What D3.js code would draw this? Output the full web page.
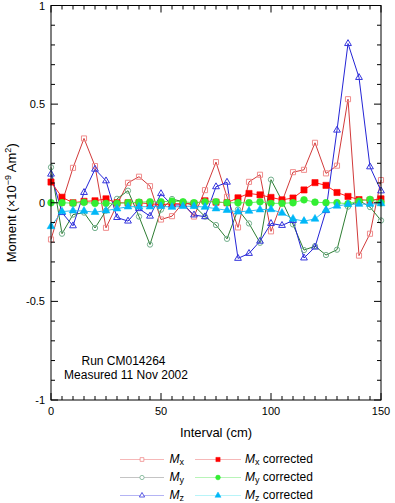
<!DOCTYPE html>
<html><head><meta charset="utf-8">
<script src="https://cdn.jsdelivr.net/npm/d3@7"></script>
<style>
html,body{margin:0;padding:0;background:#fff;}
text{font-family:"Liberation Sans",Arial,Helvetica,sans-serif;fill:#000;}
</style></head>
<body><svg id="c" width="395" height="503"></svg>
<script>
const intervals = [0,5,10,15,20,25,30,35,40,45,50,55,60,65,70,75,80,85,90,95,100,105,110,115,120,125,130,135,140,145,150];
const mx = [-0.186,0.0,0.177,0.326,0.186,-0.127,-0.01,0.101,0.132,0.084,-0.085,-0.068,0.0,-0.07,0.064,0.206,0.03,-0.125,0.106,0.142,-0.145,0.005,0.155,0.167,0.304,0.149,0.188,0.525,-0.268,-0.157,0.115];
const my = [0.18,-0.157,-0.06,-0.05,-0.128,-0.04,0.02,0.061,-0.07,-0.212,-0.035,0.019,0.005,-0.015,-0.07,-0.113,-0.183,-0.034,-0.105,-0.203,0.117,0.01,-0.11,-0.24,-0.22,-0.265,-0.238,-0.02,0.012,-0.022,-0.09];
const mz = [0.145,-0.05,-0.117,0.052,0.17,0.111,-0.075,-0.093,-0.03,-0.068,0.046,-0.012,-0.01,-0.062,-0.071,0.081,0.104,-0.282,-0.257,-0.195,-0.105,-0.115,-0.09,-0.28,-0.225,-0.04,0.368,0.807,0.635,0.182,0.06];
const mxCorr = [0.105,0.028,0.0,0.007,0.01,0.02,0.0,0.0,0.0,-0.005,-0.01,-0.005,-0.005,-0.005,0.01,0.003,0.0,0.025,0.047,0.04,0.027,0.015,0.024,0.065,0.102,0.088,0.052,0.032,0.016,0.012,0.02];
const myCorr = [0.0,0.0,-0.002,0.002,-0.003,-0.003,-0.003,0.0,0.003,0.005,0.005,0.008,0.005,0.0,0.005,0.005,0.0,0.0,0.0,0.005,-0.003,-0.003,0.0,0.015,0.003,0.0,0.0,-0.005,0.008,0.017,0.0];
const mzCorr = [-0.12,-0.045,-0.04,-0.042,-0.048,-0.04,-0.03,-0.02,-0.02,-0.02,-0.018,-0.022,-0.018,-0.018,-0.022,-0.03,-0.038,-0.046,-0.042,-0.035,-0.034,-0.052,-0.082,-0.093,-0.082,-0.037,-0.016,-0.008,-0.007,-0.007,-0.004];
const xTickLabels = [0,50,100,150];
const yTickLabels = [-1,-0.5,0,0.5,1];
const seriesNames = ["M","M","M","M","M","M"];
const seriesSubs = ["x","y","z","x","y","z"];
const seriesSuffix = [""," "," "," corrected"," corrected"," corrected"];

const svg = d3.select("#c");
const L = 51, R = 381, T = 5.5, B = 400;
const x = d3.scaleLinear().domain([0,150]).range([L,R]);
const y = d3.scaleLinear().domain([-1,1]).range([B,T]);

const series = [
  {v: mx, line:"#d23a3a", mark:"#f08c8c", sym:d3.symbolSquare, fill:false, size:26, lg:"#f6b8b8", lgSize:14},
  {v: my, line:"#2e7d32", mark:"#74b08e", sym:d3.symbolCircle, fill:false, size:22, lg:"#c4c4c4", lgSize:14},
  {v: mz, line:"#2424d6", mark:"#3535dd", sym:d3.symbolTriangle, fill:false, size:20, lg:"#b4b4f4", lgSize:12},
  {v: mxCorr, line:"#ff2020", mark:"#ff0000", sym:d3.symbolSquare, fill:true, size:38, lg:"#f6b8b8", lgSize:18},
  {v: myCorr, line:"#66ee66", mark:"#33ee33", sym:d3.symbolCircle, fill:true, size:36, lg:"#b8f4b8", lgSize:18},
  {v: mzCorr, line:"#33b8ee", mark:"#00b8f8", sym:d3.symbolTriangle, fill:true, size:26, lg:"#b8f4f8", lgSize:16}
];

const plot = svg.append("g");
const lineGen = d3.line().x((d,i)=>x(intervals[i])).y(d=>y(d));
series.forEach(s=>{
  plot.append("path").attr("d", lineGen(s.v)).attr("fill","none").attr("stroke", s.line).attr("stroke-width",1);
});
series.forEach(s=>{
  plot.selectAll(null).data(s.v).enter().append("path")
    .attr("d", d3.symbol().type(s.sym).size(s.size))
    .attr("transform",(d,i)=>`translate(${x(intervals[i])},${y(d)})`)
    .attr("fill", s.fill ? s.mark : "none")
    .attr("stroke", s.mark).attr("stroke-width", s.fill?0.6:1);
});

// frame
svg.append("rect").attr("x",L).attr("y",T).attr("width",R-L).attr("height",B-T)
  .attr("fill","none").attr("stroke","#000").attr("stroke-width",1);

// ticks
const axG = svg.append("g").attr("stroke","#000").attr("stroke-width",1);
d3.range(0,151,5).forEach(v=>{
  const len = (v%50===0)?7:4;
  axG.append("line").attr("x1",x(v)).attr("x2",x(v)).attr("y1",B).attr("y2",B-len);
  axG.append("line").attr("x1",x(v)).attr("x2",x(v)).attr("y1",T).attr("y2",T+len);
});
d3.range(-10,11,1).forEach(k=>{
  const v = k/10;
  const len = (k%5===0)?7:4;
  axG.append("line").attr("x1",L).attr("x2",L+len).attr("y1",y(v)).attr("y2",y(v));
  axG.append("line").attr("x1",R).attr("x2",R-len).attr("y1",y(v)).attr("y2",y(v));
});
svg.selectAll(null).data(xTickLabels).enter().append("text")
  .attr("x",d=>x(d)).attr("y",415).attr("text-anchor","middle").attr("font-size",11).text(d=>d);
svg.selectAll(null).data(yTickLabels).enter().append("text")
  .attr("x",45).attr("y",d=>y(d)+4).attr("text-anchor","end").attr("font-size",11).text(d=>d);

svg.append("text").attr("x",(L+R)/2).attr("y",437).attr("text-anchor","middle").attr("font-size",13).text("Interval (cm)");

const yl = svg.append("text").attr("transform",`translate(16,${(T+B)/2}) rotate(-90)`).attr("text-anchor","middle").attr("font-size",13);
yl.append("tspan").text("Moment (\u00d710");
yl.append("tspan").attr("font-size",9).attr("dy",-5).text("\u22129");
yl.append("tspan").attr("dy",5).text(" Am");
yl.append("tspan").attr("font-size",9).attr("dy",-5).text("2");
yl.append("tspan").attr("dy",5).text(")");

svg.append("text").attr("x",123.5).attr("y",365).attr("text-anchor","middle").attr("font-size",12).text("Run CM014264");
svg.append("text").attr("x",126).attr("y",378.5).attr("text-anchor","middle").attr("font-size",12).text("Measured 11 Nov 2002");

// legend
const rowsY = [459.5, 477.5, 495.5];
const cols = [{x1:120,x2:164,mx:142,tx:169.5},{x1:195,x2:241,mx:218,tx:245}];
series.forEach((s,i)=>{
  const c = cols[Math.floor(i/3)], ry = rowsY[i%3];
  svg.append("line").attr("x1",c.x1).attr("x2",c.x2).attr("y1",ry).attr("y2",ry).attr("stroke",s.lg).attr("stroke-width",1);
  svg.append("path").attr("d",d3.symbol().type(s.sym).size(s.lgSize)())
    .attr("transform",`translate(${c.mx},${ry})`)
    .attr("fill", s.fill ? s.mark : "#fff").attr("stroke", s.mark).attr("stroke-width", s.fill?0.5:0.8);
  const t = svg.append("text").attr("x",c.tx).attr("y",ry+3.5).attr("font-size",12);
  t.append("tspan").attr("font-style","italic").text(seriesNames[i]);
  t.append("tspan").attr("font-size",9).attr("dy",2).text(seriesSubs[i]);
  if (seriesSuffix[i].trim()) t.append("tspan").attr("dy",-2).text(seriesSuffix[i]);
});
</script></body></html>
